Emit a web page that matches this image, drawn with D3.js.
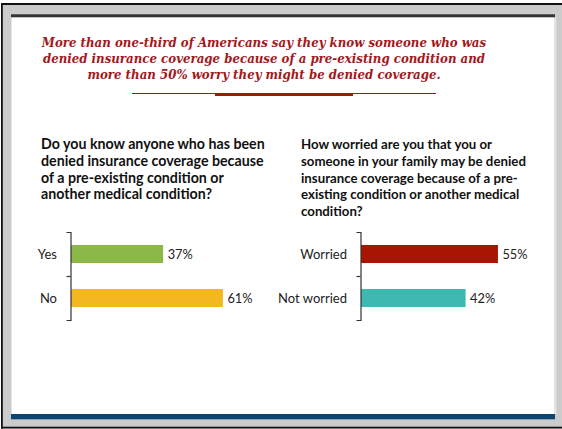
<!DOCTYPE html>
<html>
<head>
<meta charset="utf-8">
<script src="https://cdn.jsdelivr.net/npm/d3@7"></script>
<style>
  html, body { margin: 0; padding: 0; background: #fff; }
  svg { display: block; }
</style>
</head>
<body>
<svg id="chart" width="562" height="429"></svg>
<script>
// Survey results: knowing someone denied coverage, and worry about being denied
const titleLines = [
  "More than one-third of Americans say they know someone who was",
  "denied insurance coverage because of a pre-existing condition and",
  "more than 50% worry they might be denied coverage."
];

const leftQuestion = [
  "Do you know anyone who has been",
  "denied insurance coverage because",
  "of a pre-existing condition or",
  "another medical condition?"
];
const leftCategories = ["Yes", "No"];
const leftValues = [37, 61];

const rightQuestion = [
  "How worried are you that you or",
  "someone in your family may be denied",
  "insurance coverage because of a pre-",
  "existing condition or another medical",
  "condition?"
];
const rightCategories = ["Worried", "Not worried"];
const rightValues = [55, 42];

const leftColors = ["#8bb848", "#f3b81f"];
const rightColors = ["#a81601", "#3db9b1"];

const svg = d3.select("#chart");
const W = 562, H = 429;

// Slide frame
svg.append("rect").attr("x", 1).attr("y", 3).attr("width", W - 1).attr("height", 425.5).attr("fill", "#cbcbcb");
svg.append("rect").attr("x", 1).attr("y", 3).attr("width", W - 1).attr("height", 2).attr("fill", "#111");
svg.append("rect").attr("x", 1).attr("y", 3).attr("width", 1.8).attr("height", 425.5).attr("fill", "#111");
svg.append("rect").attr("x", 1).attr("y", 426.7).attr("width", W - 1).attr("height", 1.8).attr("fill", "#111");
svg.append("rect").attr("x", 554).attr("y", 17).attr("width", 2.5).attr("height", 397).attr("fill", "#e2e2e2");
svg.append("rect").attr("x", 11.5).attr("y", 17).attr("width", 542.5).attr("height", 397).attr("fill", "#fff");
svg.append("rect").attr("x", 11).attr("y", 14.3).attr("width", 544).attr("height", 3).attr("fill", "#333");
svg.append("rect").attr("x", 11).attr("y", 414).attr("width", 544).attr("height", 5.3).attr("fill", "#0d4470");

// Fit a block of lines so its reference line spans the given width
function fitLines(g, lines, refIndex, targetWidth, baseSize) {
  const texts = g.selectAll("text").data(lines).join("text").text(d => d).attr("font-size", baseSize);
  const w = texts.nodes()[refIndex].getComputedTextLength();
  const size = baseSize * targetWidth / w;
  texts.attr("font-size", size);
  return texts;
}

// Headline
const title = svg.append("g")
  .attr("font-family", "'DejaVu Serif Condensed', 'DejaVu Serif', serif")
  .attr("font-stretch", "condensed")
  .attr("font-weight", "bold")
  .attr("font-style", "italic")
  .attr("fill", "#a3171b")
  .attr("text-anchor", "middle");
fitLines(title, titleLines, 0, 445, 12)
  .attr("x", 264)
  .attr("y", (d, i) => 47 + i * 16);

// Divider under the headline
svg.append("line").attr("x1", 132).attr("x2", 436).attr("y1", 93.5).attr("y2", 93.5)
  .attr("stroke", "#a3171b").attr("stroke-width", 1);
svg.append("rect").attr("x", 215).attr("y", 93).attr("width", 138).attr("height", 3).attr("fill", "#a81601");

// Shared value scale (percent -> bar length)
const xLen = d3.scaleLinear().domain([0, 100]).range([0, 249]);

function panel(opts) {
  const g = svg.append("g");

  const q = g.append("g")
    .attr("font-family", "Lato, 'Open Sans', sans-serif")
    .attr("font-weight", "bold")
    .attr("fill", "#111");
  fitLines(q, opts.question, opts.refLine, opts.refWidth, 14)
    .attr("x", opts.qx)
    .attr("y", (d, i) => 149 + i * 16.8);

  const y = d3.scaleBand().domain(opts.categories).range([232, 320])
    .paddingInner(0.59).paddingOuter(0.295);
  const yEdge = d3.scaleLinear().domain([0, opts.categories.length]).range([232, 320]);
  const x = d3.scaleLinear().domain([0, 100]).range([opts.x0, opts.x0 + xLen(100)]);

  g.selectAll("rect.bar").data(opts.values).join("rect")
    .attr("class", "bar")
    .attr("x", x(0))
    .attr("y", (d, i) => y(opts.categories[i]))
    .attr("width", d => x(d) - x(0))
    .attr("height", y.bandwidth())
    .attr("fill", (d, i) => opts.colors[i]);

  const axis = d3.axisLeft(yEdge)
    .tickValues(d3.range(1, opts.categories.length))
    .tickSizeInner(4).tickSizeOuter(4).tickFormat("");
  const ag = g.append("g").attr("transform", `translate(${x(0) - 0.5},0)`).call(axis);
  ag.selectAll("path, line").attr("stroke", "#333").attr("stroke-width", 1.2);

  g.selectAll("text.cat").data(opts.categories).join("text")
    .attr("class", "cat")
    .attr("x", x(0) - 14)
    .attr("y", d => y(d) + y.bandwidth() / 2)
    .attr("dy", "0.36em")
    .attr("text-anchor", "end")
    .attr("font-family", "Lato, 'Open Sans', sans-serif")
    .attr("font-size", 13)
    .attr("fill", "#222")
    .text(d => d);

  g.selectAll("text.val").data(opts.values).join("text")
    .attr("class", "val")
    .attr("x", d => x(d) + 4.5)
    .attr("y", (d, i) => y(opts.categories[i]) + y.bandwidth() / 2)
    .attr("dy", "0.36em")
    .attr("font-family", "Lato, 'Open Sans', sans-serif")
    .attr("font-size", 12.8)
    .attr("fill", "#222")
    .text(d => d + "%");
}

panel({
  question: leftQuestion, refLine: 0, refWidth: 224, qx: 41,
  categories: leftCategories, values: leftValues, colors: leftColors, x0: 71
});
panel({
  question: rightQuestion, refLine: 1, refWidth: 225, qx: 301,
  categories: rightCategories, values: rightValues, colors: rightColors, x0: 361
});
</script>
</body>
</html>
